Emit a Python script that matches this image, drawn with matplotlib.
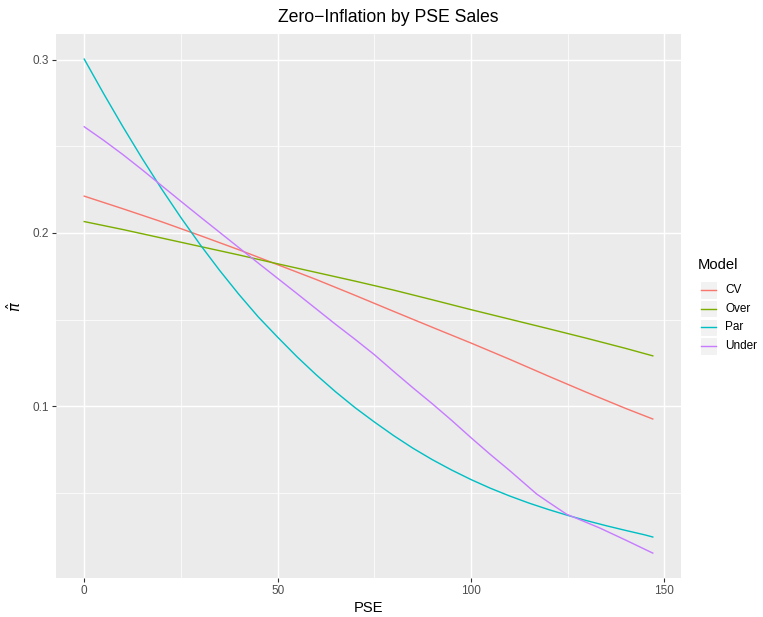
import matplotlib
matplotlib.use("Agg")
import matplotlib.pyplot as plt
from matplotlib.lines import Line2D
from matplotlib.patches import Rectangle

plt.rcParams['font.family'] = ['Liberation Sans', 'DejaVu Sans']
plt.rcParams['mathtext.fontset'] = 'dejavusans'

# predicted zero-inflation probability along PSE sales, per model
pse = [0, 10, 20, 30, 40, 50, 60, 70, 80, 90, 100, 110, 120, 130, 140, 147]
pi_cv = [0.2213, 0.2140, 0.2065, 0.1985, 0.1903, 0.1817, 0.1731, 0.1640,
         0.1547, 0.1455, 0.1364, 0.1270, 0.1173, 0.1078, 0.0986, 0.0925]
pi_over = [0.2066, 0.2020, 0.1971, 0.1922, 0.1873, 0.1822, 0.1772, 0.1722,
           0.1670, 0.1614, 0.1557, 0.1502, 0.1447, 0.1391, 0.1333, 0.1290]

pse_par = [0, 5, 10, 15, 20, 25, 30, 35, 40, 45, 50, 55, 60, 65, 70, 75,
           80, 85, 90, 95, 100, 105, 110, 115, 120, 125, 130, 135, 140,
           145, 147]
pi_par = [0.3005, 0.2806, 0.2614, 0.2430, 0.2255, 0.2089, 0.1932, 0.1784,
          0.1645, 0.1515, 0.1398, 0.1285, 0.1180, 0.1082, 0.0991, 0.0908,
          0.0829, 0.0756, 0.0690, 0.0630, 0.0575, 0.0525, 0.0480, 0.0439,
          0.0402, 0.0368, 0.0337, 0.0308, 0.0281, 0.0255, 0.0243]

pse_under = [0, 5, 10, 15, 20, 25, 30, 35, 40, 45, 50, 55, 60, 65, 70, 75,
             80, 85, 90, 95, 100, 105, 110, 117, 120, 124.7, 133.3, 140, 147]
pi_under = [0.2614, 0.2536, 0.2453, 0.2365, 0.2274, 0.2183, 0.2093, 0.2004,
            0.1915, 0.1826, 0.1738, 0.1650, 0.1561, 0.1472, 0.1386, 0.1297,
            0.1200, 0.1105, 0.1013, 0.0917, 0.0817, 0.0720, 0.0627, 0.0491,
            0.0445, 0.0375, 0.0295, 0.0225, 0.0150]

models = ['CV', 'Over', 'Par', 'Under']
colors = ['#F8766D', '#7CAE00', '#00BFC4', '#C77CFF']
series = [(pse, pi_cv), (pse, pi_over), (pse_par, pi_par), (pse_under, pi_under)]

W, H = 763, 617
fig = plt.figure(figsize=(W / 100, H / 100), dpi=100)
ax = fig.add_axes([55.8 / W, 1 - 577.8 / H, (681.2 - 55.8) / W, (577.8 - 34.4) / H])
ax.set_facecolor('#EBEBEB')

for (xs, ys), col in zip(series, colors):
    ax.plot(xs, ys, color=col, lw=1.02, zorder=3)

xmin, xmax = 0, 147
ymin, ymax = 0.0150, 0.3005
dx = (xmax - xmin) * 0.05
dy = (ymax - ymin) * 0.05
ax.set_xlim(xmin - dx, xmax + dx)
ax.set_ylim(ymin - dy, ymax + dy)

ax.set_xticks([0, 50, 100, 150])
ax.set_xticks([25, 75, 125], minor=True)
ax.set_yticks([0.1, 0.2, 0.3])
ax.set_yticks([0.05, 0.15, 0.25], minor=True)
ax.set_xticklabels(['0', '50', '100', '150'])
ax.set_yticklabels(['0.1', '0.2', '0.3'])
ax.grid(which='major', color='white', lw=1.02, zorder=1)
ax.grid(which='minor', color='white', lw=0.51, zorder=1)
ax.set_axisbelow(True)
for s in ax.spines.values():
    s.set_visible(False)
ax.tick_params(which='major', length=2.64, width=0.8, color='#333333',
               labelsize=8.45, labelcolor='#4D4D4D', pad=2.2)
ax.tick_params(which='minor', length=0)

ax.set_xlabel('PSE', fontsize=10.6, labelpad=3)
ax.set_ylabel(r'$\hat{\pi}$', fontsize=10.6, labelpad=6)
fig.text(388 / W, 1 - 18 / H, 'Zero\u2212Inflation by PSE Sales',
         fontsize=12.7, ha='center', va='center')

# legend drawn by hand: title, grey key boxes, line samples, labels
fig.text(698 / W, 1 - 265 / H, 'Model', fontsize=10.6, ha='left', va='center')
key_y = [290, 308.7, 327.4, 346]
for name, col, ky in zip(models, colors, key_y):
    fig.patches.append(Rectangle((699.5 / W, 1 - (ky + 8.6) / H), 17.3 / W, 17.3 / H,
                                 transform=fig.transFigure, facecolor='#F2F2F2',
                                 edgecolor='white', lw=0.8))
    fig.lines.append(Line2D([701 / W, 716 / W], [1 - ky / H, 1 - ky / H],
                            transform=fig.transFigure, color=col, lw=1.02))
    fig.text(725 / W, 1 - ky / H, name, fontsize=8.45, ha='left', va='center')

fig.savefig('out.png', dpi=100, facecolor='white')
